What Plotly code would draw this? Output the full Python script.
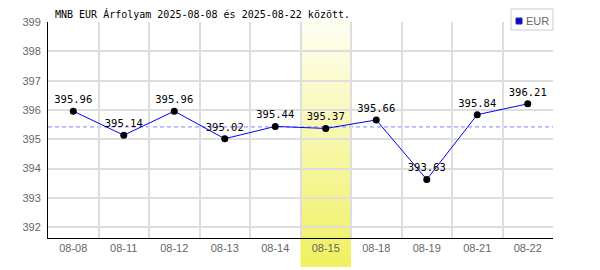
import plotly.graph_objects as go

dates = ["08-08", "08-11", "08-12", "08-13", "08-14", "08-15", "08-18", "08-19", "08-21", "08-22"]
rates = [395.96, 395.14, 395.96, 395.02, 395.44, 395.37, 395.66, 393.63, 395.84, 396.21]
highlight = "08-15"
title_text = "MNB EUR Árfolyam 2025-08-08 és 2025-08-22 között."
series_name = "EUR"

avg = sum(rates) / len(rates)
hi = dates.index(highlight)

W, H = 600, 270
ml, mr, mt, mb = 48, 47, 22, 32
ph = H - mt - mb
pw = W - ml - mr

fig = go.Figure()
fig.add_trace(go.Scatter(
    x=dates, y=rates, mode="lines+markers+text",
    line=dict(color="#0000ff", width=1),
    marker=dict(color="black", size=7),
    text=[f"{v:.2f}" for v in rates], textposition="top center",
    textfont=dict(family="DejaVu Sans Mono", size=10.5, color="black"),
    cliponaxis=False, showlegend=False, hoverinfo="skip",
))

shapes = []
# gradient highlight band
top_px, bot_px = 20, 267
y_top = 1 + (mt - top_px) / ph
y_bot = -(bot_px - (mt + ph)) / ph
n = 62
c0 = (0xfe, 0xfe, 0xf2)
c1 = (0xf0, 0xf0, 0x60)
for i in range(n):
    t = (i + 0.5) / n
    col = tuple(round(c0[k] + (c1[k] - c0[k]) * t) for k in range(3))
    ya = y_top - (y_top - y_bot) * i / n
    yb = y_top - (y_top - y_bot) * (i + 1) / n
    shapes.append(dict(type="rect", xref="x", yref="paper", x0=hi - 0.5, x1=hi + 0.5,
                       y0=yb, y1=ya + 0.002, fillcolor="rgb(%d,%d,%d)" % col,
                       line=dict(width=0), layer="between"))
# average line
shapes.append(dict(type="line", xref="paper", yref="y", x0=0, x1=1, y0=avg, y1=avg,
                   line=dict(color="#8080ff", width=1, dash="4px,3px"), layer="between"))
# legend box
lx0 = (511 - ml) / pw
lx1 = (553 - ml) / pw
ly0 = 1 + (mt - 30) / ph
ly1 = 1 + (mt - 9) / ph
shapes.append(dict(type="rect", xref="paper", yref="paper", x0=lx0, x1=lx1, y0=ly0, y1=ly1,
                   fillcolor="white", line=dict(color="#cccccc", width=1), layer="above"))
sx0 = (516 - ml) / pw
sx1 = (522 - ml) / pw
sy0 = 1 + (mt - 24) / ph
sy1 = 1 + (mt - 18) / ph
shapes.append(dict(type="rect", xref="paper", yref="paper", x0=sx0, x1=sx1, y0=sy0, y1=sy1,
                   fillcolor="#0000ff", line=dict(color="#333366", width=1), layer="above"))

annotations = [
    dict(text=title_text, xref="paper", yref="paper", x=(53 - ml) / pw, y=1 + (mt - 14) / ph,
         xanchor="left", yanchor="middle", showarrow=False,
         font=dict(family="DejaVu Sans Mono", size=10, color="black")),
    dict(text=series_name, xref="paper", yref="paper", x=(524 - ml) / pw, y=1 + (mt - 20.5) / ph,
         xanchor="left", yanchor="middle", showarrow=False,
         font=dict(family="Liberation Sans", size=11, color="#666666")),
]

fig.update_layout(
    width=W, height=H, margin=dict(l=ml, r=mr, t=mt, b=mb),
    paper_bgcolor="white", plot_bgcolor="white",
    shapes=shapes, annotations=annotations, showlegend=False,
    xaxis=dict(type="category", categoryorder="array", categoryarray=dates,
               range=[-0.5, len(dates) - 0.5], tickson="boundaries",
               showgrid=True, gridcolor="#dedede", gridwidth=1.5,
               showline=True, linecolor="black", linewidth=1, ticks="",
               tickfont=dict(family="Liberation Sans", size=11, color="#666666"),
               zeroline=False, fixedrange=True),
    yaxis=dict(range=[391.635, 399], tick0=392, dtick=1,
               showgrid=True, gridcolor="#dedede", gridwidth=1.5,
               showline=True, linecolor="black", linewidth=1, ticks="",
               tickfont=dict(family="Liberation Sans", size=11, color="#666666"),
               ticklabelstandoff=4, zeroline=False, fixedrange=True),
)

fig.write_html("out.html")
